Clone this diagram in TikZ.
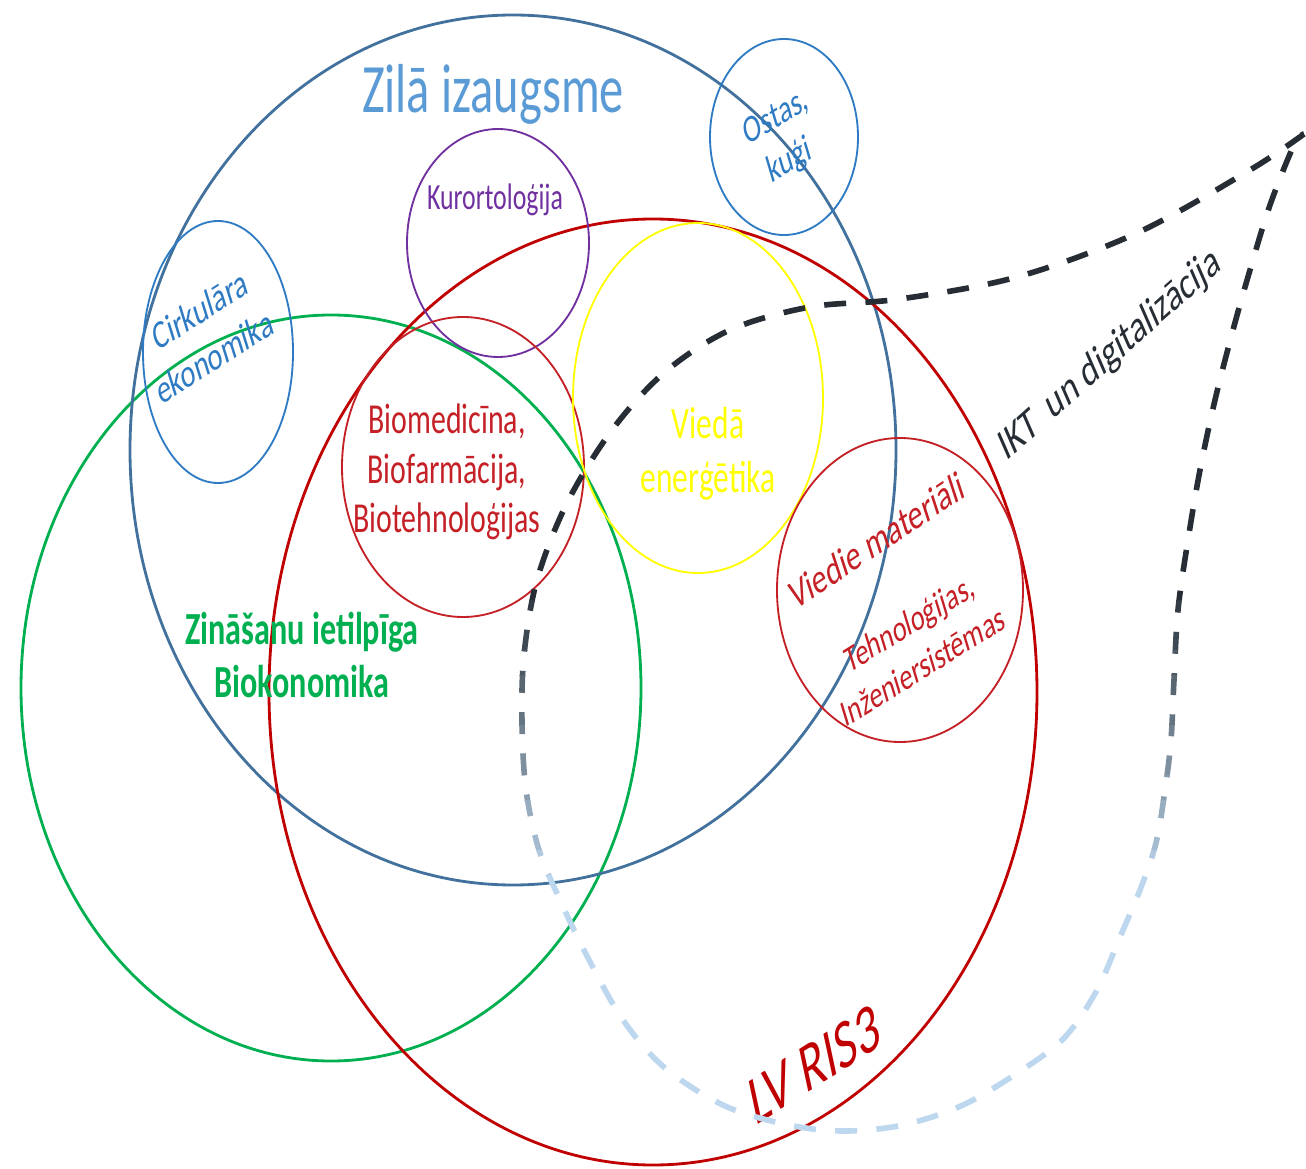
\documentclass[tikz,border=0pt]{standalone}
\usepackage{fontspec}
\setmainfont{Carlito}
\definecolor{zilaline}{HTML}{41719C}
\definecolor{zilatext}{HTML}{5B9BD5}
\definecolor{risred}{HTML}{C00000}
\definecolor{subred}{HTML}{C42026}
\definecolor{bioeco}{HTML}{00B050}
\definecolor{smallblue}{HTML}{2E7BC4}
\definecolor{kurort}{HTML}{7030A0}
\definecolor{energy}{HTML}{FFFF00}
\definecolor{ictdark}{HTML}{262D34}
\definecolor{ictlight}{HTML}{BDD7EE}

\begin{document}
\begin{tikzpicture}[x=0.02cm,y=-0.02cm,
    bigring/.style={line width=1.6pt},
    ring/.style={line width=1.05pt},
    lbl/.style={yscale=1.43,align=center,inner sep=0pt},
    ictdash/.style={line width=3.2pt,dash pattern=on 12.5pt off 11pt}]
  \useasboundingbox (0,0) rectangle (1306,1169);

  % big areas
  \draw[bigring,bioeco] (331,688) ellipse [x radius=310, y radius=373];
  \draw[bigring,zilaline] (513,450) ellipse [x radius=383, y radius=435];
  \draw[bigring,risred] (653,692) ellipse [x radius=384, y radius=473];

  % smaller areas
  \draw[ring,smallblue] (218,352) ellipse [x radius=75, y radius=131];
  \draw[ring,smallblue] (784,137) ellipse [x radius=74, y radius=98];
  \draw[ring,kurort] (498,243) ellipse [x radius=91, y radius=114];
  \draw[ring,subred] (463,467) ellipse [x radius=121, y radius=150];
  \draw[ring,energy] (698,398) ellipse [x radius=125, y radius=175];
  \draw[ring,subred] (900,590) ellipse [x radius=123, y radius=152];

  % labels
  \node[lbl,anchor=base,zilatext,font=\fontsize{27.6}{33}\selectfont] (zila) at (493,113) {Zilā izaugsme};
  \node[lbl,kurort,anchor=base,font=\fontsize{14.7}{18}\selectfont] (kurortlbl) at (495,210) {Kurortoloģija};
  \node[lbl,smallblue,rotate=24,font=\fontsize{16}{20.5}\selectfont] (cirklbl) at (207,333) {Cirkulāra\\ekonomika};
  \node[lbl,smallblue,rotate=23,font=\fontsize{15.5}{19}\selectfont] (ostaslbl) at (783,140) {Ostas,\\kuģi};
  \node[lbl,subred,font=\fontsize{17}{19.8}\selectfont] (biolbl) at (447,472) {Biomedicīna,\\Biofarmācija,\\Biotehnoloģijas};
  \node[lbl,energy,font=\fontsize{17.9}{21.4}\selectfont] (energylbl) at (708,454) {Viedā\\enerģētika};
  \node[lbl,bioeco,font=\bfseries\fontsize{18.3}{21}\selectfont] (bioecolbl) at (302,655) {Zināšanu ietilpīga\\Biokonomika};
  \node[lbl,subred,rotate=25,font=\fontsize{16.9}{20}\selectfont] (materlbl) at (877,540) {Viedie materiāli};
  \node[lbl,subred,rotate=23.5,font=\fontsize{14.9}{19}\selectfont] (techlbl) at (916,644) {Tehnoloģijas,\\Inženiersistēmas};
  \node[lbl,ictdark,rotate=32,font=\fontsize{18.3}{22}\selectfont] (ictlbl) at (1110,355) {IKT\ \ un digitalizācija};
  \node[lbl,risred,rotate=24,font=\itshape\fontsize{27.4}{33}\selectfont] (rislbl) at (814,1065) {LV RIS3};

  % ICT loop, fading from dark to light downwards
  \path[save path=\ictloop] plot[smooth,tension=.55] coordinates {
    (1304,134) (1250,170) (1137,233) (1017,277) (900,299) (810,307)
    (730,330) (665,372) (612,430) (567,503) (537,580) (524,655)
    (522,723) (526,790) (539,850) (560,900) (587,956) (623,1020)
    (665,1068) (725,1106) (789,1125) (844,1131) (903,1125) (963,1105)
    (1022,1070) (1065,1037) (1097,990) (1120,937) (1140,890) (1156,843)
    (1165,790) (1171,740) (1174,680) (1178,610) (1188,540) (1200,470)
    (1215,400) (1233,330) (1250,270) (1270,205) (1294,145) (1304,134)};
  \foreach \k in {0,...,12}{
    \pgfmathsetmacro\ya{\k==0 ? -20 : 575+25*\k}
    \pgfmathsetmacro\yb{\k==12 ? 1200 : 600+25*\k}
    \pgfmathsetmacro\mixpct{100*\k/12}
    \begin{scope}
      \clip (-20,\ya) rectangle (1330,\yb);
      \draw[use path=\ictloop,ictdash,draw=ictlight!\mixpct!ictdark];
    \end{scope}
  }
\end{tikzpicture}
\end{document}
